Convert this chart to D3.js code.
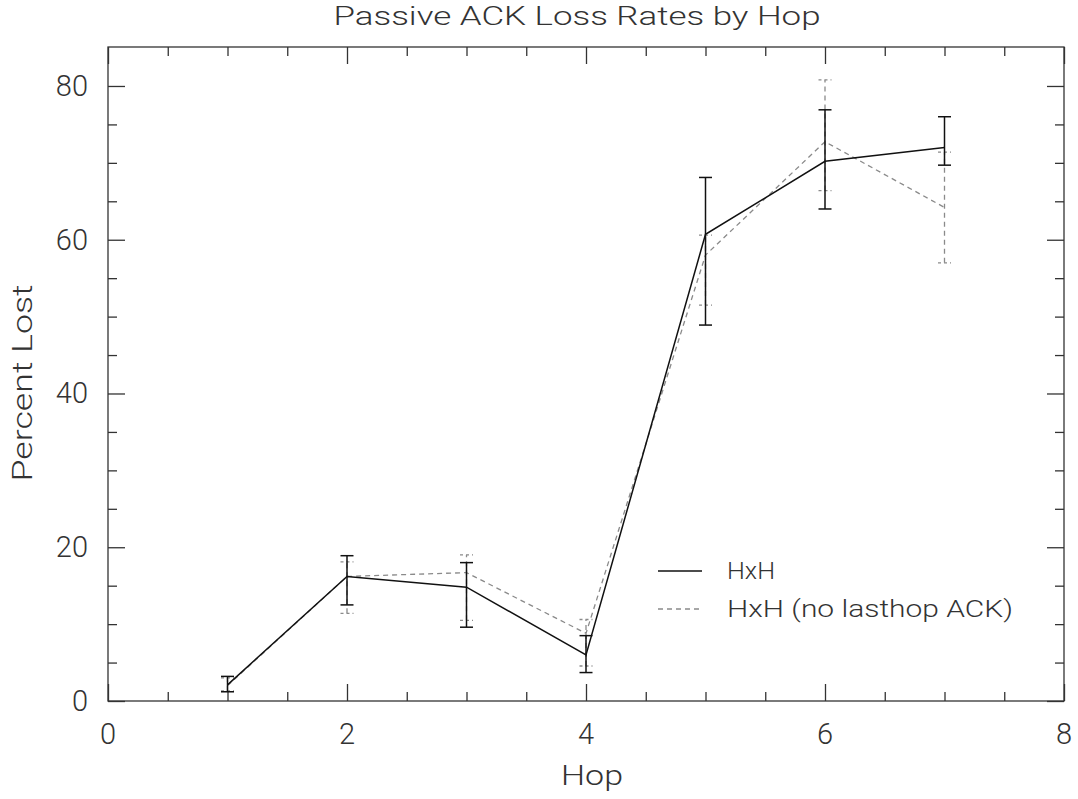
<!DOCTYPE html>
<html>
<head>
<meta charset="utf-8">
<script src="https://cdn.jsdelivr.net/npm/d3@7"></script>
<style>
  html, body { margin: 0; padding: 0; background: #fff; }
  svg { display: block; }
  text { font-family: Roboto, "Liberation Sans", sans-serif; font-weight: 300; fill: #333; }
</style>
</head>
<body>
<script>
// ---- data ----
const hops = [1, 2, 3, 4, 5, 6, 7];
const hxh = [2.1, 16.2, 14.8, 6.0, 60.7, 70.2, 72.0];
const hxhLow = [1.2, 12.5, 9.6, 3.7, 48.9, 64.0, 69.7];
const hxhHigh = [3.2, 18.9, 18.0, 8.5, 68.1, 76.9, 76.0];
const noLast = [2.0, 16.2, 16.7, 8.8, 58.0, 72.75, 64.2];
const noLastLow = [1.3, 11.4, 10.5, 4.55, 51.5, 66.4, 57.0];
const noLastHigh = [3.0, 18.1, 19.0, 10.6, 60.6, 80.8, 71.4];
const xTicks = [0, 2, 4, 6, 8];
const yTicks = [0, 20, 40, 60, 80];
const seriesNames = ["HxH", "HxH (no lasthop ACK)"];
const title = "Passive ACK Loss Rates by Hop";
const xLabel = "Hop";
const yLabel = "Percent Lost";

const W = 1078, H = 799;
const m = { left: 108, top: 47, right: 14, bottom: 98 };
const pw = W - m.left - m.right, ph = H - m.top - m.bottom;

const svg = d3.select("body").append("svg").attr("width", W).attr("height", H);
const g = svg.append("g").attr("transform", `translate(${m.left},${m.top})`);

const x = d3.scaleLinear().domain([0, 8]).range([0, pw]);
const y = d3.scaleLinear().domain([0, 85.07]).range([ph, 0]);

const axisColor = "#333";
const majorLen = 17, minorLen = 9;

// frame
g.append("rect").attr("x", 0).attr("y", 0).attr("width", pw).attr("height", ph)
  .attr("fill", "none").attr("stroke", axisColor).attr("stroke-width", 1.3);

// x ticks (bottom and top, inward)
const xMinor = d3.range(0, 8.001, 0.5).filter(v => !xTicks.includes(v));
const xMajorAxisB = d3.axisBottom(x).tickValues(xTicks).tickSize(-majorLen).tickFormat("");
const xMinorAxisB = d3.axisBottom(x).tickValues(xMinor).tickSize(-minorLen).tickFormat("");
const xMajorAxisT = d3.axisTop(x).tickValues(xTicks).tickSize(-majorLen).tickFormat("");
const xMinorAxisT = d3.axisTop(x).tickValues(xMinor).tickSize(-minorLen).tickFormat("");
[[xMajorAxisB, ph], [xMinorAxisB, ph], [xMajorAxisT, 0], [xMinorAxisT, 0]].forEach(([ax, ty]) => {
  const a = g.append("g").attr("transform", `translate(0,${ty})`).call(ax);
  a.select(".domain").remove();
  a.selectAll("line").attr("stroke", axisColor).attr("stroke-width", 1.3);
});
// y ticks (left and right, inward)
const yMinor = d3.range(0, 85, 5).filter(v => !yTicks.includes(v));
const yMajL = d3.axisLeft(y).tickValues(yTicks).tickSize(-majorLen).tickFormat("");
const yMinL = d3.axisLeft(y).tickValues(yMinor).tickSize(-minorLen).tickFormat("");
const yMajR = d3.axisRight(y).tickValues(yTicks).tickSize(-majorLen).tickFormat("");
const yMinR = d3.axisRight(y).tickValues(yMinor).tickSize(-minorLen).tickFormat("");
[[yMajL, 0], [yMinL, 0], [yMajR, pw], [yMinR, pw]].forEach(([ax, tx]) => {
  const a = g.append("g").attr("transform", `translate(${tx},0)`).call(ax);
  a.select(".domain").remove();
  a.selectAll("line").attr("stroke", axisColor).attr("stroke-width", 1.3);
});

// tick labels
g.selectAll(".xl").data(xTicks).enter().append("text")
  .attr("x", d => x(d)).attr("y", ph + 43)
  .attr("text-anchor", "middle").attr("font-size", 29).text(d => d);
g.selectAll(".yl").data(yTicks).enter().append("text")
  .attr("x", -20).attr("y", d => y(d) + 10)
  .attr("text-anchor", "end").attr("font-size", 29).text(d => d);

// titles
svg.append("text").attr("x", 577).attr("y", 25).attr("text-anchor", "middle")
  .attr("font-size", 26).attr("textLength", 487).attr("lengthAdjust", "spacingAndGlyphs").text(title);
svg.append("text").attr("x", 592).attr("y", 785).attr("text-anchor", "middle")
  .attr("font-size", 28).attr("textLength", 62).attr("lengthAdjust", "spacingAndGlyphs").text(xLabel);
svg.append("text").attr("transform", "translate(32,383) rotate(-90)").attr("text-anchor", "middle")
  .attr("font-size", 28).attr("textLength", 197).attr("lengthAdjust", "spacingAndGlyphs").text(yLabel);

// series
const series = [
  { vals: noLast, lo: noLastLow, hi: noLastHigh, color: "#8a8a8a", dash: "5,4", width: 1.3 },
  { vals: hxh, lo: hxhLow, hi: hxhHigh, color: "#111", dash: null, width: 1.5 }
];
const line = d3.line().x(d => x(d[0])).y(d => y(d[1]));
const capW = 6.5;
series.forEach(s => {
  const sg = g.append("g");
  const pts = hops.map((h, i) => [h, s.vals[i]]);
  sg.append("path").datum(pts).attr("d", line).attr("fill", "none")
    .attr("stroke", s.color).attr("stroke-width", s.width).attr("stroke-dasharray", s.dash);
  hops.forEach((h, i) => {
    const cx = x(h);
    sg.append("line").attr("x1", cx).attr("x2", cx).attr("y1", y(s.lo[i])).attr("y2", y(s.hi[i]))
      .attr("stroke", s.color).attr("stroke-width", s.width).attr("stroke-dasharray", s.dash);
    [s.lo[i], s.hi[i]].forEach(v => {
      sg.append("line").attr("x1", cx - capW).attr("x2", cx + capW).attr("y1", y(v)).attr("y2", y(v))
        .attr("stroke", s.color).attr("stroke-width", s.width).attr("stroke-dasharray", s.dash ? "3,3" : null);
    });
  });
});

// legend
const legend = [
  { name: seriesNames[0], color: "#111", dash: null, y: 571, len: 48 },
  { name: seriesNames[1], color: "#8a8a8a", dash: "5,4", y: 609, len: 286 }
];
legend.forEach(l => {
  svg.append("line").attr("x1", 658).attr("x2", 702).attr("y1", l.y).attr("y2", l.y)
    .attr("stroke", l.color).attr("stroke-width", 1.3).attr("stroke-dasharray", l.dash);
  svg.append("text").attr("x", 727).attr("y", l.y + 8).attr("font-size", 23)
    .attr("textLength", l.len).attr("lengthAdjust", "spacingAndGlyphs").text(l.name);
});
</script>
</body>
</html>
